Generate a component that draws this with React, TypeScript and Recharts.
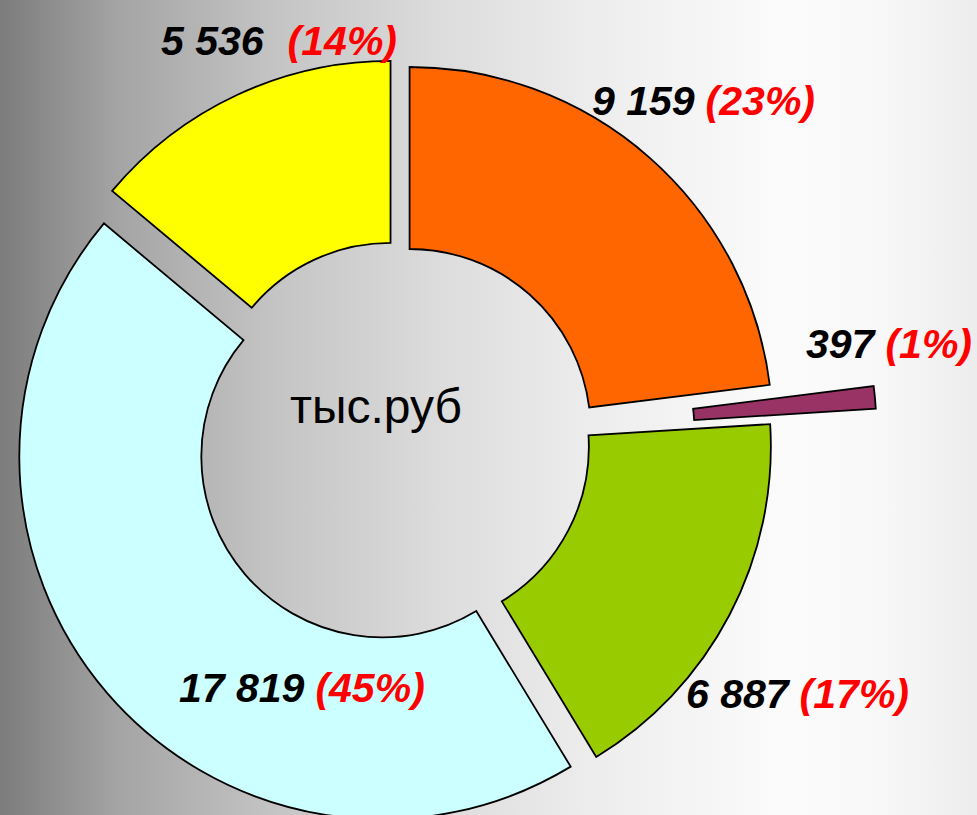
import { Label, Pie, PieChart, Sector } from "recharts";

// values in тыс.руб, clockwise from 12 o'clock
const segments = ["s1", "s2", "s3", "s4", "s5"];
const values = [9159, 397, 6887, 17819, 5536];
const centerTitle = "тыс.руб";

const colors = ["#FF6600", "#993366", "#99CC00", "#CCFFFF", "#FFFF00"];
const explode = [16, 115, 10, 22, 20];
const labelOffsets: [number, number][] = [
    [193, -327],
    [407, -84],
    [287, 266],
    [-220, 260],
    [-238, -387]
];
const labelGaps = [11, 11, 11, 11, 24];

const CX = 394;
const CY = 437;
const RADIAN = Math.PI / 180;
const total = values.reduce((a, b) => a + b, 0);

const chartData = segments.map((name, i) => ({ name, value: values[i] }));

function formatThousands(v: number) {
    return String(v).replace(/\B(?=(\d{3})+(?!\d))/g, " ");
}

function renderSlice(props: any) {
    const { cx, cy, innerRadius, outerRadius, startAngle, endAngle, index } = props;
    const mid = (startAngle + endAngle) / 2;
    const d = explode[index];
    const ox = d * Math.cos(-mid * RADIAN);
    const oy = d * Math.sin(-mid * RADIAN);
    const [lx, ly] = labelOffsets[index];
    const value = values[index];
    const percent = props.percent ?? value / total;

    return (
        <g key={`slice-${index}`}>
            <Sector
                cx={cx + ox}
                cy={cy + oy}
                innerRadius={innerRadius}
                outerRadius={outerRadius}
                startAngle={startAngle}
                endAngle={endAngle}
                fill={colors[index]}
                stroke="#000000"
                strokeWidth={1.8}
            />
            <text
                x={cx + lx}
                y={cy + ly}
                textAnchor="start"
                fontFamily="'Liberation Sans', Arial, sans-serif"
                fontSize={41}
                fontWeight="bold"
                fontStyle="italic"
            >
                <tspan fill="#000000">{formatThousands(value)}</tspan>
                <tspan fill="#FF0000" dx={labelGaps[index]}>({Math.round(percent * 100)}%)</tspan>
            </text>
        </g>
    );
}

export default function App() {
    return (
        <div
            style={{
                position: "absolute",
                left: 0,
                top: 0,
                width: 977,
                height: 815,
                overflow: "hidden",
                background:
                    "linear-gradient(to right, #7c7c7c 0%, #a4a4a4 12%, #c4c4c4 28%, #dcdcdc 45%, #eeeeee 62%, #fbfbfb 80%, #f8f8f8 90%, #ededed 100%)"
            }}
        >
            <PieChart width={977} height={815}>
                <Pie
                    data={chartData}
                    dataKey="value"
                    nameKey="name"
                    cx={CX}
                    cy={CY}
                    innerRadius={181}
                    outerRadius={363}
                    startAngle={90}
                    endAngle={-270}
                    fill="none"
                    stroke="none"
                    label={renderSlice}
                    labelLine={false}
                    isAnimationActive={false}
                >
                    <Label
                        position="center"
                        content={() => (
                            <text
                                x={CX - 18}
                                y={CY - 14}
                                textAnchor="middle"
                                fontFamily="'Liberation Sans', Arial, sans-serif"
                                fontSize={48}
                                fill="#000000"
                            >
                                {centerTitle}
                            </text>
                        )}
                    />
                </Pie>
            </PieChart>
        </div>
    );
}
